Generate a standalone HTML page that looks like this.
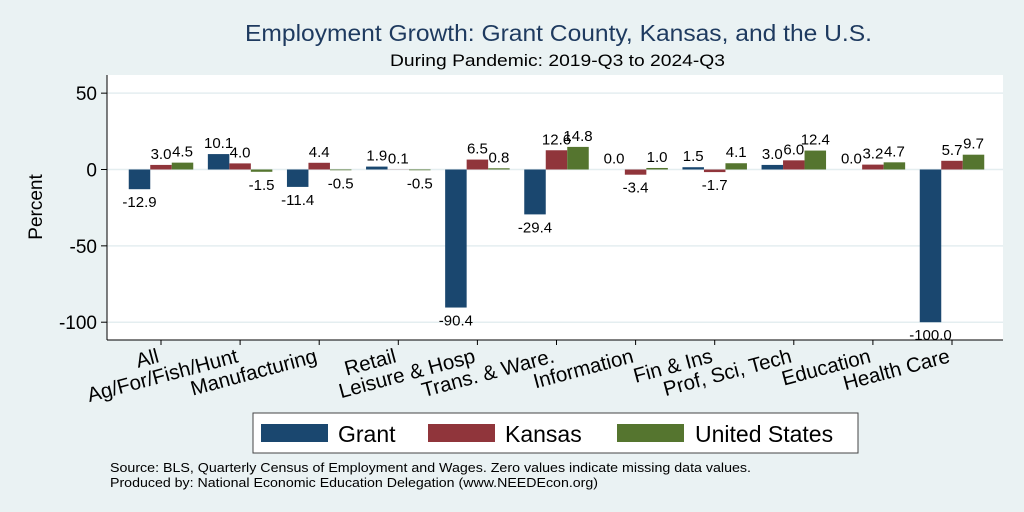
<!DOCTYPE html>
<html><head><meta charset="utf-8"><style>
body{margin:0;background:#eaf2f3;}
svg{display:block;font-family:"Liberation Sans",Arial,sans-serif;}
</style></head><body>
<svg id="chart" width="1024" height="512" viewBox="0 0 1024 512" xmlns="http://www.w3.org/2000/svg">
<rect x="0" y="0" width="1024" height="512" fill="#eaf2f3"/>
<text x="245" y="41" font-size="23" fill="#1e3a5f" textLength="627" lengthAdjust="spacingAndGlyphs">Employment Growth: Grant County, Kansas, and the U.S.</text>
<text x="390" y="66" font-size="16.5" fill="#000" textLength="335" lengthAdjust="spacingAndGlyphs">During Pandemic: 2019-Q3 to 2024-Q3</text>
<rect x="107" y="75" width="896" height="265" fill="#fff"/>
<g id="grid"></g>
<g id="bars"></g>
<g id="labels"></g>
<line x1="107" y1="75" x2="107" y2="340" stroke="#000" stroke-width="1"/>
<line x1="107" y1="340" x2="1003" y2="340" stroke="#000" stroke-width="1"/>
<text transform="translate(42,207) rotate(-90)" font-size="19" text-anchor="middle">Percent</text>
<g id="yticks"></g>
<g id="xticks"></g>
<rect x="253" y="413" width="605" height="40" fill="#fff" stroke="#444" stroke-width="1"/>
<rect x="261" y="424" width="67" height="18" fill="#1a476f"/>
<text x="338" y="442" font-size="23">Grant</text>
<rect x="428" y="424" width="67" height="18" fill="#90353b"/>
<text x="505" y="442" font-size="23">Kansas</text>
<rect x="617" y="424" width="67" height="18" fill="#55752f"/>
<text x="695" y="442" font-size="23">United States</text>
<text x="110" y="472" font-size="13" textLength="641" lengthAdjust="spacingAndGlyphs">Source: BLS, Quarterly Census of Employment and Wages. Zero values indicate missing data values.</text>
<text x="110" y="487" font-size="13" textLength="488" lengthAdjust="spacingAndGlyphs">Produced by: National Economic Education Delegation (www.NEEDEcon.org)</text>
</svg>
<script>
const categories=["All","Ag/For/Fish/Hunt","Manufacturing","Retail","Leisure & Hosp","Trans. & Ware.","Information","Fin & Ins","Prof, Sci, Tech","Education","Health Care"];
const grant=[-12.9,10.1,-11.4,1.9,-90.4,-29.4,0.0,1.5,3.0,0.0,-100.0];
const kansas=[3.0,4.0,4.4,0.1,6.5,12.6,-3.4,-1.7,6.0,3.2,5.7];
const us=[4.5,-1.5,-0.5,-0.5,0.8,14.8,1.0,4.1,12.4,4.7,9.7];
const yTicks=[50,0,-50,-100];
const NS="http://www.w3.org/2000/svg";
function y(v){return 169.5-v*1.527;}
function xc(i){return 161+i*79.1;}
const bw=21.5;
function mk(tag,attrs,parent){const e=document.createElementNS(NS,tag);for(const k in attrs)e.setAttribute(k,attrs[k]);document.getElementById(parent).appendChild(e);return e;}
yTicks.forEach(t=>{
  const g=mk('line',{x1:107,x2:1003,y1:y(t),y2:y(t),stroke:'#e4eef0','stroke-width':1.5},'grid');
  
  
  const tk=mk('line',{x1:101,x2:107,y1:y(t),y2:y(t),stroke:'#000'},'yticks');
  
  
  const tx=mk('text',{x:97,y:y(t)+7,'font-size':19,'text-anchor':'end'},'yticks');
  tx.textContent=t;
  
  
});
const series=[[grant,'#1a476f','grant'],[kansas,'#90353b','kansas'],[us,'#55752f','us']];
categories.forEach((c,i)=>{
  series.forEach(([vals,col,nm],s)=>{
    const v=vals[i];
    const x0=xc(i)+(s-1.5)*bw;
    const r=mk('rect',{x:x0,y:Math.min(y(0),y(v)),width:bw,height:Math.abs(y(v)-y(0)),fill:col},'bars');
    
    
    const ly=v>=0?y(v)-6:y(v)+18;
    const l=mk('text',{x:x0+bw/2,y:ly,'font-size':15,'text-anchor':'middle'},'labels');
    l.textContent=v.toFixed(1);
    
    
  });
  const tk=mk('line',{x1:xc(i),x2:xc(i),y1:340,y2:345,stroke:'#000'},'xticks');
  
  
  const tx=mk('text',{transform:'translate('+(xc(i)-1)+',362) rotate(-15)','font-size':20.5,'text-anchor':'end'},'xticks');
  tx.textContent=c;
  
  
});
</script>
</body></html>
